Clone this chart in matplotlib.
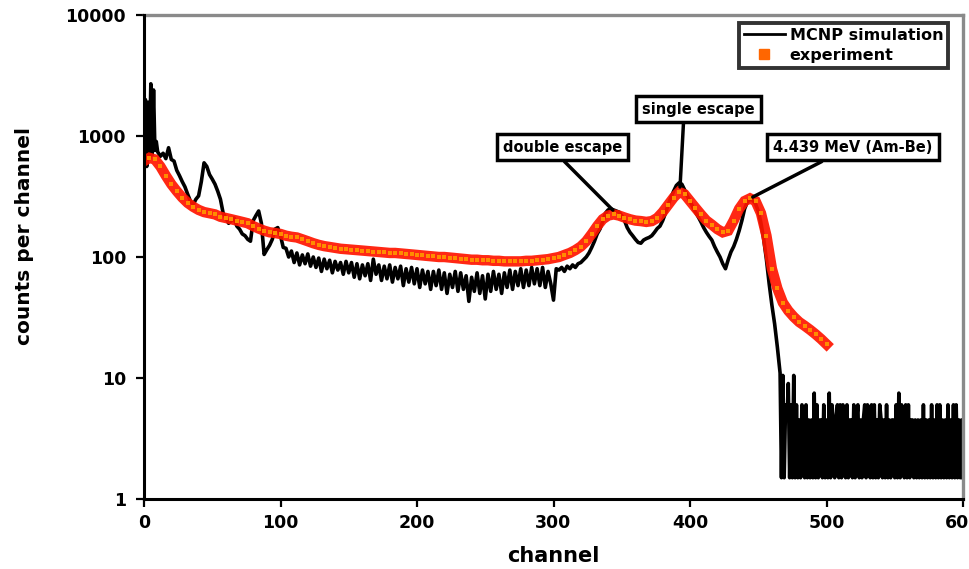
import matplotlib
matplotlib.use("Agg")
import matplotlib.pyplot as plt
from matplotlib.lines import Line2D

plt.rcParams['font.family'] = ['DejaVu Sans']
plt.rcParams['font.weight'] = 'bold'

# ---------------- data ----------------
sim_channel = ([0, 1, 2, 3, 4, 5, 6, 7, 8, 9] +
               list(range(10, 466, 2)) +
               list(range(466, 601)))
sim_counts = [
    620, 2000, 560, 1900, 650, 2700, 700, 2400, 760, 900,
    # 10 .. 98 step 2
    740, 680, 720, 650, 800, 640, 620, 520, 470, 420,
    380, 330, 290, 270, 300, 320, 420, 600, 560, 480,
    440, 400, 350, 300, 230, 210, 190, 200, 210, 180,
    170, 155, 150, 140, 135, 200, 220, 240, 190, 105,
    115, 125, 140, 170, 175,
    # 100 .. 198
    150, 120, 118, 100, 112, 90, 108, 86, 104, 88,
    106, 84, 100, 82, 98, 76, 96, 80, 94, 74,
    92, 78, 90, 72, 92, 74, 90, 68, 88, 66,
    86, 70, 88, 64, 96, 72, 86, 64, 84, 66,
    86, 62, 82, 66, 84, 58, 80, 62, 82, 60,
    # 200 .. 298
    80, 56, 78, 60, 76, 54, 76, 58, 78, 54,
    74, 50, 72, 56, 76, 52, 74, 54, 70, 43,
    68, 52, 74, 50, 70, 45, 72, 52, 76, 54,
    72, 50, 74, 56, 78, 54, 76, 58, 80, 56,
    78, 58, 82, 60, 80, 58, 82, 56, 76, 60,
    # 300 .. 398
    44, 80, 78, 82, 76, 84, 80, 86, 82, 88,
    90, 95, 100, 108, 120, 135, 155, 170, 195, 230,
    245, 250, 245, 240, 235, 220, 200, 175, 160, 150,
    140, 132, 130, 138, 142, 145, 150, 160, 172, 180,
    200, 230, 270, 310, 350, 390, 410, 400, 360, 320,
    # 400 .. 464
    290, 260, 235, 215, 195, 175, 160, 148, 138, 122,
    110, 100, 88, 80, 95, 110, 122, 140, 165, 200,
    250, 285, 300, 295, 275, 240, 190, 140, 95, 60,
    40, 28, 18,
    # 466 .. 600 step 1
    11,
    1.5, 10.5, 1.5, 6, 4.5, 9, 1.5, 6, 1.5, 10.5,
    1.5, 6, 1.5, 4.5, 1.5, 6, 4.5, 1.5, 6, 1.5,
    4.5, 1.5, 4.5, 1.5, 7.5, 1.5, 6, 1.5, 4.5, 4.5,
    1.5, 6, 1.5, 4.5, 1.5, 7.5, 1.5, 6, 4.5, 1.5,
    4.5, 6, 1.5, 6, 1.5, 6, 4.5, 1.5, 6, 1.5,
    4.5, 4.5, 1.5, 6, 1.5, 4.5, 6, 1.5, 4.5, 1.5,
    4.5, 6, 1.5, 6, 4.5, 1.5, 6, 1.5, 6, 1.5,
    4.5, 1.5, 6, 4.5, 1.5, 4.5, 1.5, 6, 1.5, 4.5,
    1.5, 4.5, 4.5, 1.5, 6, 1.5, 7.5, 1.5, 6, 4.5,
    1.5, 6, 1.5, 6, 1.5, 4.5, 4.5, 1.5, 4.5, 1.5,
    4.5, 1.5, 4.5, 1.5, 6, 1.5, 4.5, 1.5, 4.5, 1.5,
    6, 1.5, 4.5, 1.5, 6, 1.5, 6, 1.5, 4.5, 1.5,
    4.5, 1.5, 6, 1.5, 4.5, 1.5, 6, 1.5, 6, 1.5,
    4.5, 1.5, 4.5, 1.5,
]

exp_channel = list(range(0, 504, 4))
exp_counts = [
    620, 660, 640, 560, 470, 400, 350, 310, 280, 260,
    245, 235, 230, 225, 215, 210, 205, 200, 195, 190,
    180, 172, 165, 160, 158, 155, 150, 147, 145, 140,
    135, 130, 126, 123, 121, 119, 117, 116, 115, 114,
    113, 112, 111, 110, 109, 108, 108, 107, 106, 105,
    104, 103, 102, 101, 100, 100, 99, 98, 97, 96,
    95, 95, 94, 94, 93, 93, 92, 92, 92, 92,
    93, 93, 94, 95, 96, 98, 100, 104, 108, 114,
    122, 135, 155, 180, 205, 220, 225, 220, 212, 205,
    200, 198, 195, 198, 210, 235, 270, 310, 345, 330,
    290, 255, 225, 200, 185, 170, 160, 165, 200, 250,
    290, 305, 290, 230, 150, 80, 55, 42, 36, 32,
    29, 27, 25, 23, 21, 19,
]

x_ticks = [0, 100, 200, 300, 400, 500, 600]
y_ticks = [1, 10, 100, 1000, 10000]
y_tick_labels = ['1', '10', '100', '1000', '10000']

annotations = [
    ("double escape", 343.5, 244, 306.4, 811, 0.46),
    ("single escape", 392.7, 379, 406.2, 1671, 0.37),
    ("4.439 MeV (Am-Be)", 446, 313, 519.4, 811, 0.39),
]

# ---------------- figure ----------------
fig = plt.figure(figsize=(9.69, 5.69), dpi=100)
ax = fig.add_axes([144/969, 1-499/569, (963-144)/969, (499-15)/569])

ax.plot(sim_channel, sim_counts, color='black', lw=2.6, zorder=2)
ax.plot(exp_channel, exp_counts, color='#FF1500', lw=7.5, solid_joinstyle='miter',
        alpha=0.92, zorder=3)
ax.plot(exp_channel, exp_counts, 's', color='#FF8C00', ms=3.5, mew=0, zorder=3.5)

ax.set_yscale('log')
ax.set_xlim(0, 600)
ax.set_ylim(1, 10000)
ax.set_xticks(x_ticks)
ax.set_xticklabels([str(v) for v in x_ticks])
ax.set_yticks(y_ticks)
ax.set_yticklabels(y_tick_labels)
ax.minorticks_off()
ax.yaxis.set_minor_locator(matplotlib.ticker.NullLocator())
ax.tick_params(axis='both', direction='out', length=6, width=1.6, labelsize=12.5,
               color='black')
ax.tick_params(axis='x', pad=5)
ax.tick_params(axis='y', pad=7)

for s in ['left', 'bottom']:
    ax.spines[s].set_color('black')
    ax.spines[s].set_linewidth(2.2)
    ax.spines[s].set_zorder(4)
for s in ['top', 'right']:
    ax.spines[s].set_color('#8a8a8a')
    ax.spines[s].set_linewidth(2.4)

ax.set_xlabel('channel', fontsize=15, fontweight='bold', labelpad=10)
fig.text(25/969, 1-236/569, 'counts per channel', rotation=90, fontsize=14.5,
         fontweight='bold', ha='center', va='center')

for label, px, py, tx, ty, rel in annotations:
    ax.annotate(label, xy=(px, py), xytext=(tx, ty), textcoords='data',
                ha='center', va='center', fontsize=10.5, fontweight='bold',
                bbox=dict(boxstyle='square,pad=0.4', fc='white', ec='black', lw=2.5),
                arrowprops=dict(arrowstyle='-', lw=2.5, color='black',
                                relpos=(rel, 0), shrinkA=0, shrinkB=0),
                zorder=5)

handles = [Line2D([], [], color='black', lw=2.0),
           Line2D([], [], marker='s', color='#FF6600', ms=7, ls='none')]
leg = ax.legend(handles, ['MCNP simulation', 'experiment'], loc='upper right',
                bbox_to_anchor=(0.982, 0.983), fontsize=11.5, frameon=True,
                fancybox=False, borderpad=0.3, handlelength=2.6, handletextpad=0.3,
                labelspacing=0.3, borderaxespad=0)
leg.get_frame().set_edgecolor('black')
leg.get_frame().set_linewidth(2.8)
leg.set_zorder(6)

fig.savefig('out.png', dpi=100)
